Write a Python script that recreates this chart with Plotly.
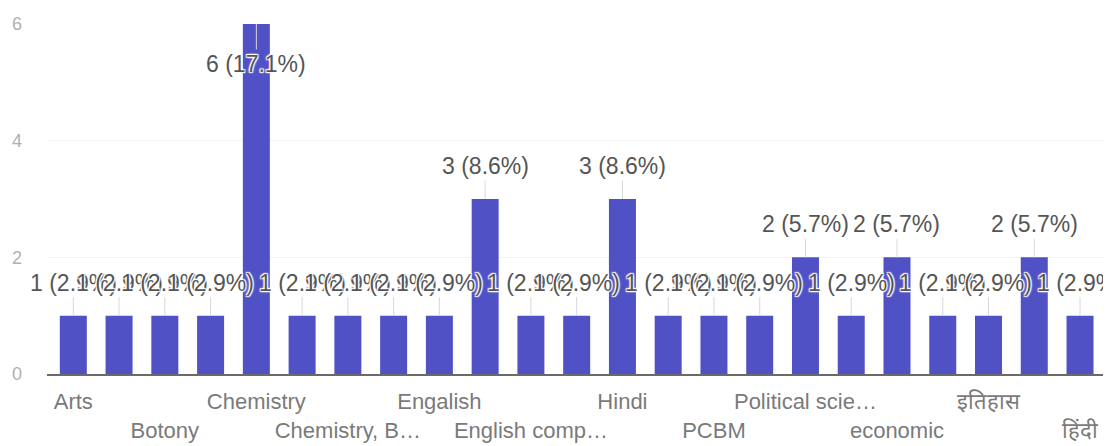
import plotly.graph_objects as go

categories = [
    "Arts", "B.A", "Botony", "Botany", "Chemistry", "Chemistry (Hons)",
    "Chemistry, Botany, Zoology", "Commerce", "Engalish", "English",
    "English compulsory", "Geography", "Hindi", "History", "PCBM", "PCM",
    "Political science", "Zoology", "economic", "english", "इतिहास",
    "राजनीति विज्ञान", "हिंदी",
]
counts = [1, 1, 1, 1, 6, 1, 1, 1, 1, 3, 1, 1, 3, 1, 1, 1, 2, 1, 2, 1, 1, 2, 1]

tick_index = [0, 2, 4, 6, 8, 10, 12, 14, 16, 18, 20, 22]
tick_labels = [
    "Arts", "Botony", "Chemistry", "Chemistry, B…", "Engalish", "English comp…",
    "Hindi", "PCBM", "Political scie…", "economic", "इतिहास", "हिंदी",
]

total = sum(counts)
BAR = "#5151c6"
FONT = "Liberation Sans, Arial, sans-serif"

fig = go.Figure()
fig.add_trace(go.Bar(x=categories, y=counts, marker=dict(color=BAR, line=dict(width=0)),
                     hoverinfo="skip"))

halo = "1px 1px 1px #fff, -1px -1px 1px #fff, 1px -1px 1px #fff, -1px 1px 1px #fff, 0 0 3px #fff"
ymax = max(counts)
for c, v in zip(categories, counts):
    inside = v >= ymax
    fig.add_annotation(
        x=c, y=v, xref="x", yref="y",
        text=f"{v} ({v / total * 100:.1f}%)",
        showarrow=True, arrowhead=0, arrowwidth=1, arrowcolor="#d8d8d8",
        ax=0, ay=40 if inside else -33,
        font=dict(family=FONT, size=23, color="#555555", shadow=halo),
    )

ticktext = []
for k, (i, t) in enumerate(zip(tick_index, tick_labels)):
    ticktext.append(t if k % 2 == 0 else "<br>" + t)

fig.update_layout(
    width=1103, height=438,
    margin=dict(l=39, r=1, t=16, b=72),
    paper_bgcolor="white", plot_bgcolor="white",
    showlegend=False, bargap=0.41,
    xaxis=dict(
        type="category", range=[-0.575, 22.655],
        tickmode="array", tickvals=[categories[i] for i in tick_index], ticktext=ticktext,
        tickangle=0, showgrid=False, ticks="",
        showline=True, linecolor="#6a6a6a", linewidth=2,
        tickfont=dict(family=FONT, size=22, color="#7a7a7a"),
        ticklabelstandoff=7,
    ),
    yaxis=dict(
        range=[0, 6], tickvals=[0, 2, 4, 6], showgrid=True, gridcolor="#f3f3f3",
        zeroline=False, ticks="",
        tickfont=dict(family=FONT, size=18, color="#b0b0b0"),
        ticklabelstandoff=24,
    ),
)

fig.write_html("out.html")
